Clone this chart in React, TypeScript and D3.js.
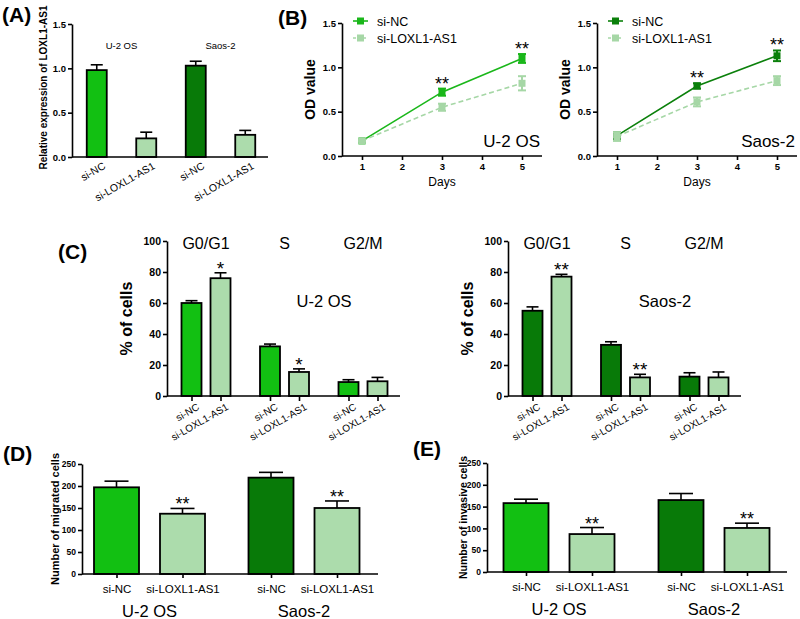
import React, { useEffect, useRef } from "react";
import * as d3 from "d3";

const FONT = "'Liberation Sans', Arial, sans-serif";
const BRIGHT = "#12c012";
const DARK = "#087a08";
const LIGHT = "#acdcac";
const LIGHT_LINE = "#a6d7a6";

// ---- data ----
const groups = ["si-NC", "si-LOXL1-AS1"];
const cellLines = ["U-2 OS", "Saos-2"];

// (A) relative expression: U-2 OS si-NC, si-LOXL1-AS1, Saos-2 si-NC, si-LOXL1-AS1
const exprMean = [0.98, 0.21, 1.03, 0.25];
const exprErr = [0.06, 0.07, 0.05, 0.05];
const exprTicks = [0, 0.5, 1.0, 1.5];

// (B) growth curves
const days = [1, 3, 5];
const dayTicks = [1, 2, 3, 4, 5];
const odTicks = [0, 0.5, 1.0, 1.5];
const odU2osNC = [0.17, 0.72, 1.1];
const odU2osNCErr = [0.01, 0.04, 0.05];
const odU2osKD = [0.17, 0.55, 0.82];
const odU2osKDErr = [0.01, 0.04, 0.08];
const odSaosNC = [0.23, 0.79, 1.13];
const odSaosNCErr = [0.04, 0.03, 0.06];
const odSaosKD = [0.22, 0.61, 0.85];
const odSaosKDErr = [0.05, 0.05, 0.05];
const odStars = ["", "**", "**"];

// (C) cell cycle
const phases = ["G0/G1", "S", "G2/M"];
const pctTicks = [0, 20, 40, 60, 80, 100];
const cycU2osNC = [60, 32, 9];
const cycU2osNCErr = [1.5, 1.5, 1.5];
const cycU2osKD = [76, 15.5, 9.5];
const cycU2osKDErr = [3.5, 2, 2.5];
const cycU2osStars = ["*", "*", ""];
const cycSaosNC = [55, 33, 12.5];
const cycSaosNCErr = [2.5, 2, 2.5];
const cycSaosKD = [77, 12, 12];
const cycSaosKDErr = [1.5, 2, 3.5];
const cycSaosStars = ["**", "**", ""];

// (D) migration, (E) invasion
const countTicks = [0, 50, 100, 150, 200, 250];
const migrated = [197, 137, 219, 150];
const migratedErr = [14, 12, 12, 16];
const invasive = [158, 87, 165, 101];
const invasiveErr = [9, 15, 15, 11];
const countStars = ["", "**", "", "**"];

const barColors = [BRIGHT, LIGHT, DARK, LIGHT];

function Axis({ axis, x = 0, y = 0, size = 9.5, weight = "bold", after }: any) {
  const ref = useRef<SVGGElement>(null);
  useEffect(() => {
    const g = d3.select(ref.current as SVGGElement);
    g.selectAll("*").remove();
    g.call(axis);
    g.attr("font-family", FONT).attr("font-size", size).attr("font-weight", weight);
    g.selectAll("path, line").attr("stroke", "#000").attr("stroke-width", 1.6);
    g.selectAll("text").attr("fill", "#000");
    if (after) after(g);
  });
  return <g ref={ref} transform={`translate(${x},${y})`} />;
}

function Letter({ x, y, t }: any) {
  return (
    <text x={x} y={y} fontSize={21} fontWeight="bold">
      {t}
    </text>
  );
}

function BarPanel(p: any) {
  const y = d3.scaleLinear().domain([0, p.ymax]).range([p.y0 + p.h, p.y0]);
  const outer = d3.scalePoint<string>().domain(cellLines).range([p.x0 + p.cellPos[0], p.x0 + p.cellPos[1]]);
  const inner = d3.scalePoint<string>().domain(groups).range([-p.half, p.half]);
  const keys = cellLines.flatMap((c) => groups.map((g) => `${c}|${g}`));
  const x = d3
    .scaleOrdinal<string, number>()
    .domain(keys)
    .range(keys.map((k) => (outer(k.split("|")[0]) as number) + (inner(k.split("|")[1]) as number)));
  const base = p.y0 + p.h;

  const rotateLabels = (g: any) => {
    g.select(".domain").remove();
    if (p.rotate) {
      g.selectAll(".tick text")
        .attr("text-anchor", "end")
        .attr("y", 0)
        .attr("dy", 0)
        .attr("transform", `translate(${p.labDx},${p.labDy}) rotate(-30)`);
    }
  };

  return (
    <g>
      {keys.map((k, i) => {
        const cx = x(k);
        const top = y(p.means[i]);
        const et = y(p.means[i] + p.errs[i]);
        return (
          <g key={k}>
            <line x1={cx} x2={cx} y1={top} y2={et} stroke="#000" strokeWidth={1.6} />
            <line x1={cx - p.capW / 2} x2={cx + p.capW / 2} y1={et} y2={et} stroke="#000" strokeWidth={1.6} />
            <rect x={cx - p.barW / 2} y={top} width={p.barW} height={base - top} fill={barColors[i]} stroke="#000" strokeWidth={1.8} />
            {p.stars && p.stars[i] ? (
              <text x={cx} y={et + 2} fontSize={18} textAnchor="middle">
                {p.stars[i]}
              </text>
            ) : null}
          </g>
        );
      })}
      <line x1={p.x0} x2={p.x0 + p.w} y1={base} y2={base} stroke="#000" strokeWidth={1.6} />
      <Axis
        axis={d3.axisLeft(y).tickValues(p.ticks).tickFormat(d3.format(p.fmt)).tickSize(4).tickSizeOuter(0).tickPadding(2)}
        x={p.x0}
        size={p.tickSize}
      />
      <Axis
        axis={d3
          .axisBottom(x as any)
          .tickSize(p.xTick)
          .tickPadding(p.xPad)
          .tickFormat((k: any) => String(k).split("|")[1])}
        y={base}
        size={p.labelSize}
        weight="normal"
        after={rotateLabels}
      />
      {cellLines.map((c) => (
        <text key={c} x={outer(c)} y={p.cellY} fontSize={p.cellSize} textAnchor="middle">
          {c}
        </text>
      ))}
      <text
        transform={`translate(${p.ylabX},${p.y0 + p.h / 2 + (p.ylabShift || 0)}) rotate(-90)`}
        fontSize={p.ylabSize}
        fontWeight="bold"
        textAnchor="middle"
      >
        {p.ylabel}
      </text>
    </g>
  );
}

function GrowthPanel({ x0, nc, ncErr, kd, kdErr, ncColor, cellLabel }: any) {
  const y0 = 23;
  const h = 133;
  const w = 200;
  const x = d3.scaleLinear().domain([1, 5]).range([x0 + 20, x0 + 180]);
  const y = d3.scaleLinear().domain([0, 1.5]).range([y0 + h, y0]);
  const line = d3
    .line<number>()
    .x((_, i) => x(days[i]))
    .y((d) => y(d));
  const series = [
    { name: groups[0], vals: nc, err: ncErr, color: ncColor, dash: undefined },
    { name: groups[1], vals: kd, err: kdErr, color: LIGHT_LINE, dash: "5,3" },
  ];
  const base = y0 + h;
  return (
    <g>
      <line x1={x0} x2={x0 + w} y1={base} y2={base} stroke="#000" strokeWidth={1.6} />
      <Axis
        axis={d3.axisLeft(y).tickValues(odTicks).tickFormat(d3.format(".1f")).tickSize(4).tickSizeOuter(0).tickPadding(2)}
        x={x0}
      />
      <Axis
        axis={d3.axisBottom(x).tickValues(dayTicks).tickFormat(d3.format("d")).tickSize(4).tickPadding(3)}
        y={base}
        after={(g: any) => g.select(".domain").remove()}
      />
      <text x={x(3)} y={186} fontSize={12} textAnchor="middle">
        Days
      </text>
      <text transform={`translate(${x0 - 27},${y0 + h / 2}) rotate(-90)`} fontSize={14} fontWeight="bold" textAnchor="middle">
        OD value
      </text>
      {series.map((s) => (
        <g key={s.name}>
          <path d={line(s.vals) as string} fill="none" stroke={s.color} strokeWidth={1.6} strokeDasharray={s.dash} />
          {s.vals.map((v: number, i: number) => {
            const cx = x(days[i]);
            const lo = y(v - s.err[i]);
            const hi = y(v + s.err[i]);
            return (
              <g key={i} stroke={s.color} strokeWidth={2}>
                <line x1={cx} x2={cx} y1={lo} y2={hi} />
                <line x1={cx - 4} x2={cx + 4} y1={lo} y2={lo} />
                <line x1={cx - 4} x2={cx + 4} y1={hi} y2={hi} />
                <rect x={cx - 3.5} y={y(v) - 3.5} width={7} height={7} fill={s.color} stroke="none" />
              </g>
            );
          })}
        </g>
      ))}
      {odStars.map((st, i) =>
        st ? (
          <text key={i} x={x(days[i])} y={y(nc[i] + ncErr[i]) + 1} fontSize={18} textAnchor="middle">
            {st}
          </text>
        ) : null
      )}
      {series.map((s, i) => (
        <g key={"leg" + i}>
          <line x1={x0 + 11} x2={x0 + 26} y1={21 + i * 17} y2={21 + i * 17} stroke={s.color} strokeWidth={1.6} strokeDasharray={s.dash ? "3,2" : undefined} />
          <rect x={x0 + 15} y={17.5 + i * 17} width={7} height={7} fill={s.color} />
          <text x={x0 + 35} y={25.5 + i * 17} fontSize={12.5}>
            {s.name}
          </text>
        </g>
      ))}
      <text x={x0 + w - 2} y={147} fontSize={17} textAnchor="end">
        {cellLabel}
      </text>
    </g>
  );
}

function CyclePanel({ x0, nc, ncErr, kd, kdErr, stars, ncColor, cellLabel }: any) {
  const y0 = 241;
  const h = 155;
  const w = 233;
  const y = d3.scaleLinear().domain([0, 100]).range([y0 + h, y0]);
  const outer = d3.scalePoint<string>().domain(phases).range([x0 + 39, x0 + 196]);
  const inner = d3.scalePoint<string>().domain(groups).range([-14.5, 14.5]);
  const keys = phases.flatMap((ph) => groups.map((g) => `${ph}|${g}`));
  const x = d3
    .scaleOrdinal<string, number>()
    .domain(keys)
    .range(keys.map((k) => (outer(k.split("|")[0]) as number) + (inner(k.split("|")[1]) as number)));
  const bars = phases.flatMap((ph, i) => [
    { key: `${ph}|${groups[0]}`, v: nc[i], e: ncErr[i], fill: ncColor, star: "" },
    { key: `${ph}|${groups[1]}`, v: kd[i], e: kdErr[i], fill: LIGHT, star: stars[i] },
  ]);
  const base = y0 + h;
  return (
    <g>
      {bars.map((b) => {
        const cx = x(b.key);
        const top = y(b.v);
        const et = y(b.v + b.e);
        return (
          <g key={b.key}>
            <line x1={cx} x2={cx} y1={top} y2={et} stroke="#000" strokeWidth={1.6} />
            <line x1={cx - 6} x2={cx + 6} y1={et} y2={et} stroke="#000" strokeWidth={1.6} />
            <rect x={cx - 10} y={top} width={20} height={base - top} fill={b.fill} stroke="#000" strokeWidth={1.8} />
            {b.star ? (
              <text x={cx} y={et + 2} fontSize={19} textAnchor="middle">
                {b.star}
              </text>
            ) : null}
          </g>
        );
      })}
      <line x1={x0} x2={x0 + w} y1={base} y2={base} stroke="#000" strokeWidth={1.6} />
      <Axis
        axis={d3.axisLeft(y).tickValues(pctTicks).tickFormat(d3.format("d")).tickSize(4).tickSizeOuter(0).tickPadding(2)}
        x={x0}
        size={10.5}
      />
      <Axis
        axis={d3
          .axisBottom(x as any)
          .tickSize(5)
          .tickFormat((k: any) => String(k).split("|")[1])}
        y={base}
        size={10}
        weight="normal"
        after={(g: any) => {
          g.select(".domain").remove();
          g.selectAll(".tick text").attr("text-anchor", "end").attr("y", 0).attr("dy", 0).attr("transform", "translate(8,13) rotate(-30)");
        }}
      />
      {phases.map((ph) => (
        <text key={ph} x={outer(ph)} y={249} fontSize={16} textAnchor="middle">
          {ph}
        </text>
      ))}
      <text x={x0 + 157} y={307} fontSize={16.5} textAnchor="middle">
        {cellLabel}
      </text>
      <text transform={`translate(${x0 - 35},${y0 + h / 2}) rotate(-90)`} fontSize={16} fontWeight="bold" textAnchor="middle">
        % of cells
      </text>
    </g>
  );
}

export default function App() {
  return (
    <svg width={800} height={619} style={{ position: "absolute", left: 0, top: 0 }} fontFamily={FONT}>
      <rect width={800} height={619} fill="#fff" />
      <Letter x={2} y={22} t="(A)" />
      <Letter x={278} y={25} t="(B)" />
      <Letter x={58} y={259} t="(C)" />
      <Letter x={3} y={461} t="(D)" />
      <Letter x={413} y={456} t="(E)" />

      <BarPanel
        x0={72} y0={24} h={133} w={196} ymax={1.5} ticks={exprTicks} fmt=".1f" tickSize={9.5}
        means={exprMean} errs={exprErr}
        cellPos={[49.5, 148.5]} half={24.75} barW={20} capW={12}
        xTick={0} xPad={0} rotate labDx={9} labDy={11} labelSize={10.5}
        cellY={49} cellSize={9.5}
        ylabel="Relative expression of LOXL1-AS1" ylabX={47} ylabSize={10} ylabShift={-3}
      />

      <GrowthPanel x0={342} nc={odU2osNC} ncErr={odU2osNCErr} kd={odU2osKD} kdErr={odU2osKDErr} ncColor="#1ab71a" cellLabel="U-2 OS" />
      <GrowthPanel x0={597} nc={odSaosNC} ncErr={odSaosNCErr} kd={odSaosKD} kdErr={odSaosKDErr} ncColor="#0b800b" cellLabel="Saos-2" />

      <CyclePanel x0={167} nc={cycU2osNC} ncErr={cycU2osNCErr} kd={cycU2osKD} kdErr={cycU2osKDErr} stars={cycU2osStars} ncColor={BRIGHT} cellLabel="U-2 OS" />
      <CyclePanel x0={508} nc={cycSaosNC} ncErr={cycSaosNCErr} kd={cycSaosKD} kdErr={cycSaosKDErr} stars={cycSaosStars} ncColor={DARK} cellLabel="Saos-2" />

      <BarPanel
        x0={82} y0={464} h={110} w={296} ymax={250} ticks={countTicks} fmt="d" tickSize={8.5}
        means={migrated} errs={migratedErr} stars={countStars}
        cellPos={[67.5, 222]} half={33} barW={45} capW={24}
        xTick={4} xPad={7} labelSize={11.5}
        cellY={617} cellSize={16.5}
        ylabel="Number of migrated cells" ylabX={59} ylabSize={11}
      />
      <BarPanel
        x0={487} y0={463} h={109} w={300} ymax={250} ticks={countTicks} fmt="d" tickSize={8.5}
        means={invasive} errs={invasiveErr} stars={countStars}
        cellPos={[72, 227]} half={33} barW={45} capW={24}
        xTick={4} xPad={7} labelSize={11.5}
        cellY={615} cellSize={16.5}
        ylabel="Number of invasive cells" ylabX={467} ylabSize={10.5}
      />
    </svg>
  );
}
